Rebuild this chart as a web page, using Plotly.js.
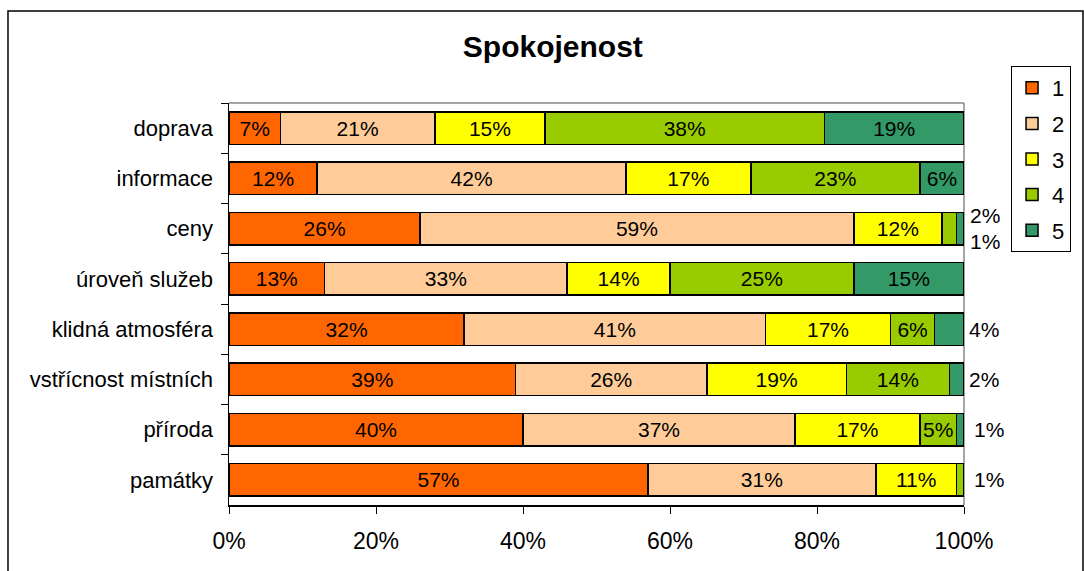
<!DOCTYPE html>
<html>
<head>
<meta charset="utf-8">
<script src="https://cdn.plot.ly/plotly-3.0.1.min.js"></script>
<style>html,body{margin:0;padding:0;background:#fff;}#chart{width:1084px;height:571px;}</style>
</head>
<body>
<div id="chart"></div>
<script>
const categories = ["doprava", "informace", "ceny", "úroveň služeb", "klidná atmosféra", "vstřícnost místních", "příroda", "památky"];
const seriesNames = ["1", "2", "3", "4", "5"];
const s1 = [7, 12, 26, 13, 32, 39, 40, 57];
const s2 = [21, 42, 59, 33, 41, 26, 37, 31];
const s3 = [15, 17, 12, 14, 17, 19, 17, 11];
const s4 = [38, 23, 2, 25, 6, 14, 5, 1];
const s5 = [19, 6, 1, 15, 4, 2, 1, 0];
const xTicks = [0, 20, 40, 60, 80, 100];
const colors = ["#FF6600", "#FFCC99", "#FFFF00", "#99CC00", "#339966"];

const FONT = "Liberation Sans, Arial, sans-serif";
const series = [s1, s2, s3, s4, s5];
const MIN_INSIDE = 5;

const traces = series.map((vals, i) => ({
  type: "bar",
  orientation: "h",
  name: seriesNames[i],
  legendgroup: "g" + i,
  y: categories,
  x: vals,
  text: vals.map(v => v >= MIN_INSIDE ? v + "%" : ""),
  textposition: "inside",
  insidetextanchor: "middle",
  constraintext: "none",
  textfont: {family: FONT, size: 21, color: "#000"},
  marker: {color: colors[i], line: {color: "#000", width: 1.5}},
  hoverinfo: "skip"
}));

// small values labelled outside the bar end
const annotations = [];
categories.forEach((cat, ci) => {
  const small = [];
  series.forEach((vals, si) => { if (vals[ci] > 0 && vals[ci] < MIN_INSIDE) small.push(vals[ci]); });
  small.forEach((v, k) => {
    const yshift = small.length > 1 ? (k === 0 ? 13 : -13) : 0;
    annotations.push({
      x: 100, y: cat, xref: "x", yref: "y",
      text: v + "%", showarrow: false, xanchor: "left",
      xshift: small.length > 1 ? 4 : (v === 1 ? 8 : 3), yshift: yshift,
      font: {family: FONT, size: 21, color: "#000"}
    });
  });
});

const layout = {
  width: 1084, height: 571,
  margin: {l: 229, r: 120, t: 103, b: 66, autoexpand: false},
  paper_bgcolor: "#fff", plot_bgcolor: "#fff",
  barmode: "stack", bargap: 0.35,
  font: {family: FONT, color: "#000"},
  title: {text: "<b>Spokojenost</b>", font: {family: FONT, size: 30, color: "#000"},
          xref: "container", yref: "container", x: 0.51, y: 0.918, xanchor: "center", yanchor: "middle"},
  xaxis: {
    range: [0, 100], tickvals: xTicks, ticktext: xTicks.map(t => t + "%"),
    showgrid: false, zeroline: false, showline: true, linecolor: "#000", linewidth: 1.5,
    ticks: "outside", ticklen: 7, tickcolor: "#000", tickwidth: 1,
    tickfont: {family: FONT, size: 23, color: "#000"}, ticklabelstandoff: 8, fixedrange: true
  },
  yaxis: {
    type: "category", categoryorder: "array", categoryarray: categories, autorange: "reversed",
    showgrid: false, zeroline: false, showline: true, linecolor: "#000", linewidth: 1.5,
    ticks: "outside", tickson: "boundaries", ticklen: 7, tickcolor: "#000", tickwidth: 1,
    tickfont: {family: FONT, size: 22, color: "#000"}, ticklabelstandoff: 10, fixedrange: true
  },
  showlegend: true,
  legend: {
    x: 1.064, y: 1.092, xanchor: "left", yanchor: "top",
    bgcolor: "#fff", bordercolor: "#000", borderwidth: 1,
    font: {family: FONT, size: 22, color: "#000"},
    traceorder: "grouped", tracegroupgap: 4, itemwidth: 30
  },
  shapes: [
    {type: "line", xref: "paper", yref: "paper", x0: 0, x1: 1, y0: 1, y1: 1, line: {color: "#888", width: 1.5}},
    {type: "line", xref: "paper", yref: "paper", x0: 1, x1: 1, y0: 0, y1: 1, line: {color: "#888", width: 1.5}, layer: "below"},
    {type: "rect", xref: "paper", yref: "paper", x0: -0.3007, x1: 1.1619, y0: -0.18, y1: 1.2289, line: {color: "#000", width: 1.5}, fillcolor: "rgba(0,0,0,0)"}
  ],
  annotations: annotations
};

Plotly.newPlot("chart", traces, layout, {displayModeBar: false, staticPlot: true});
</script>
</body>
</html>
